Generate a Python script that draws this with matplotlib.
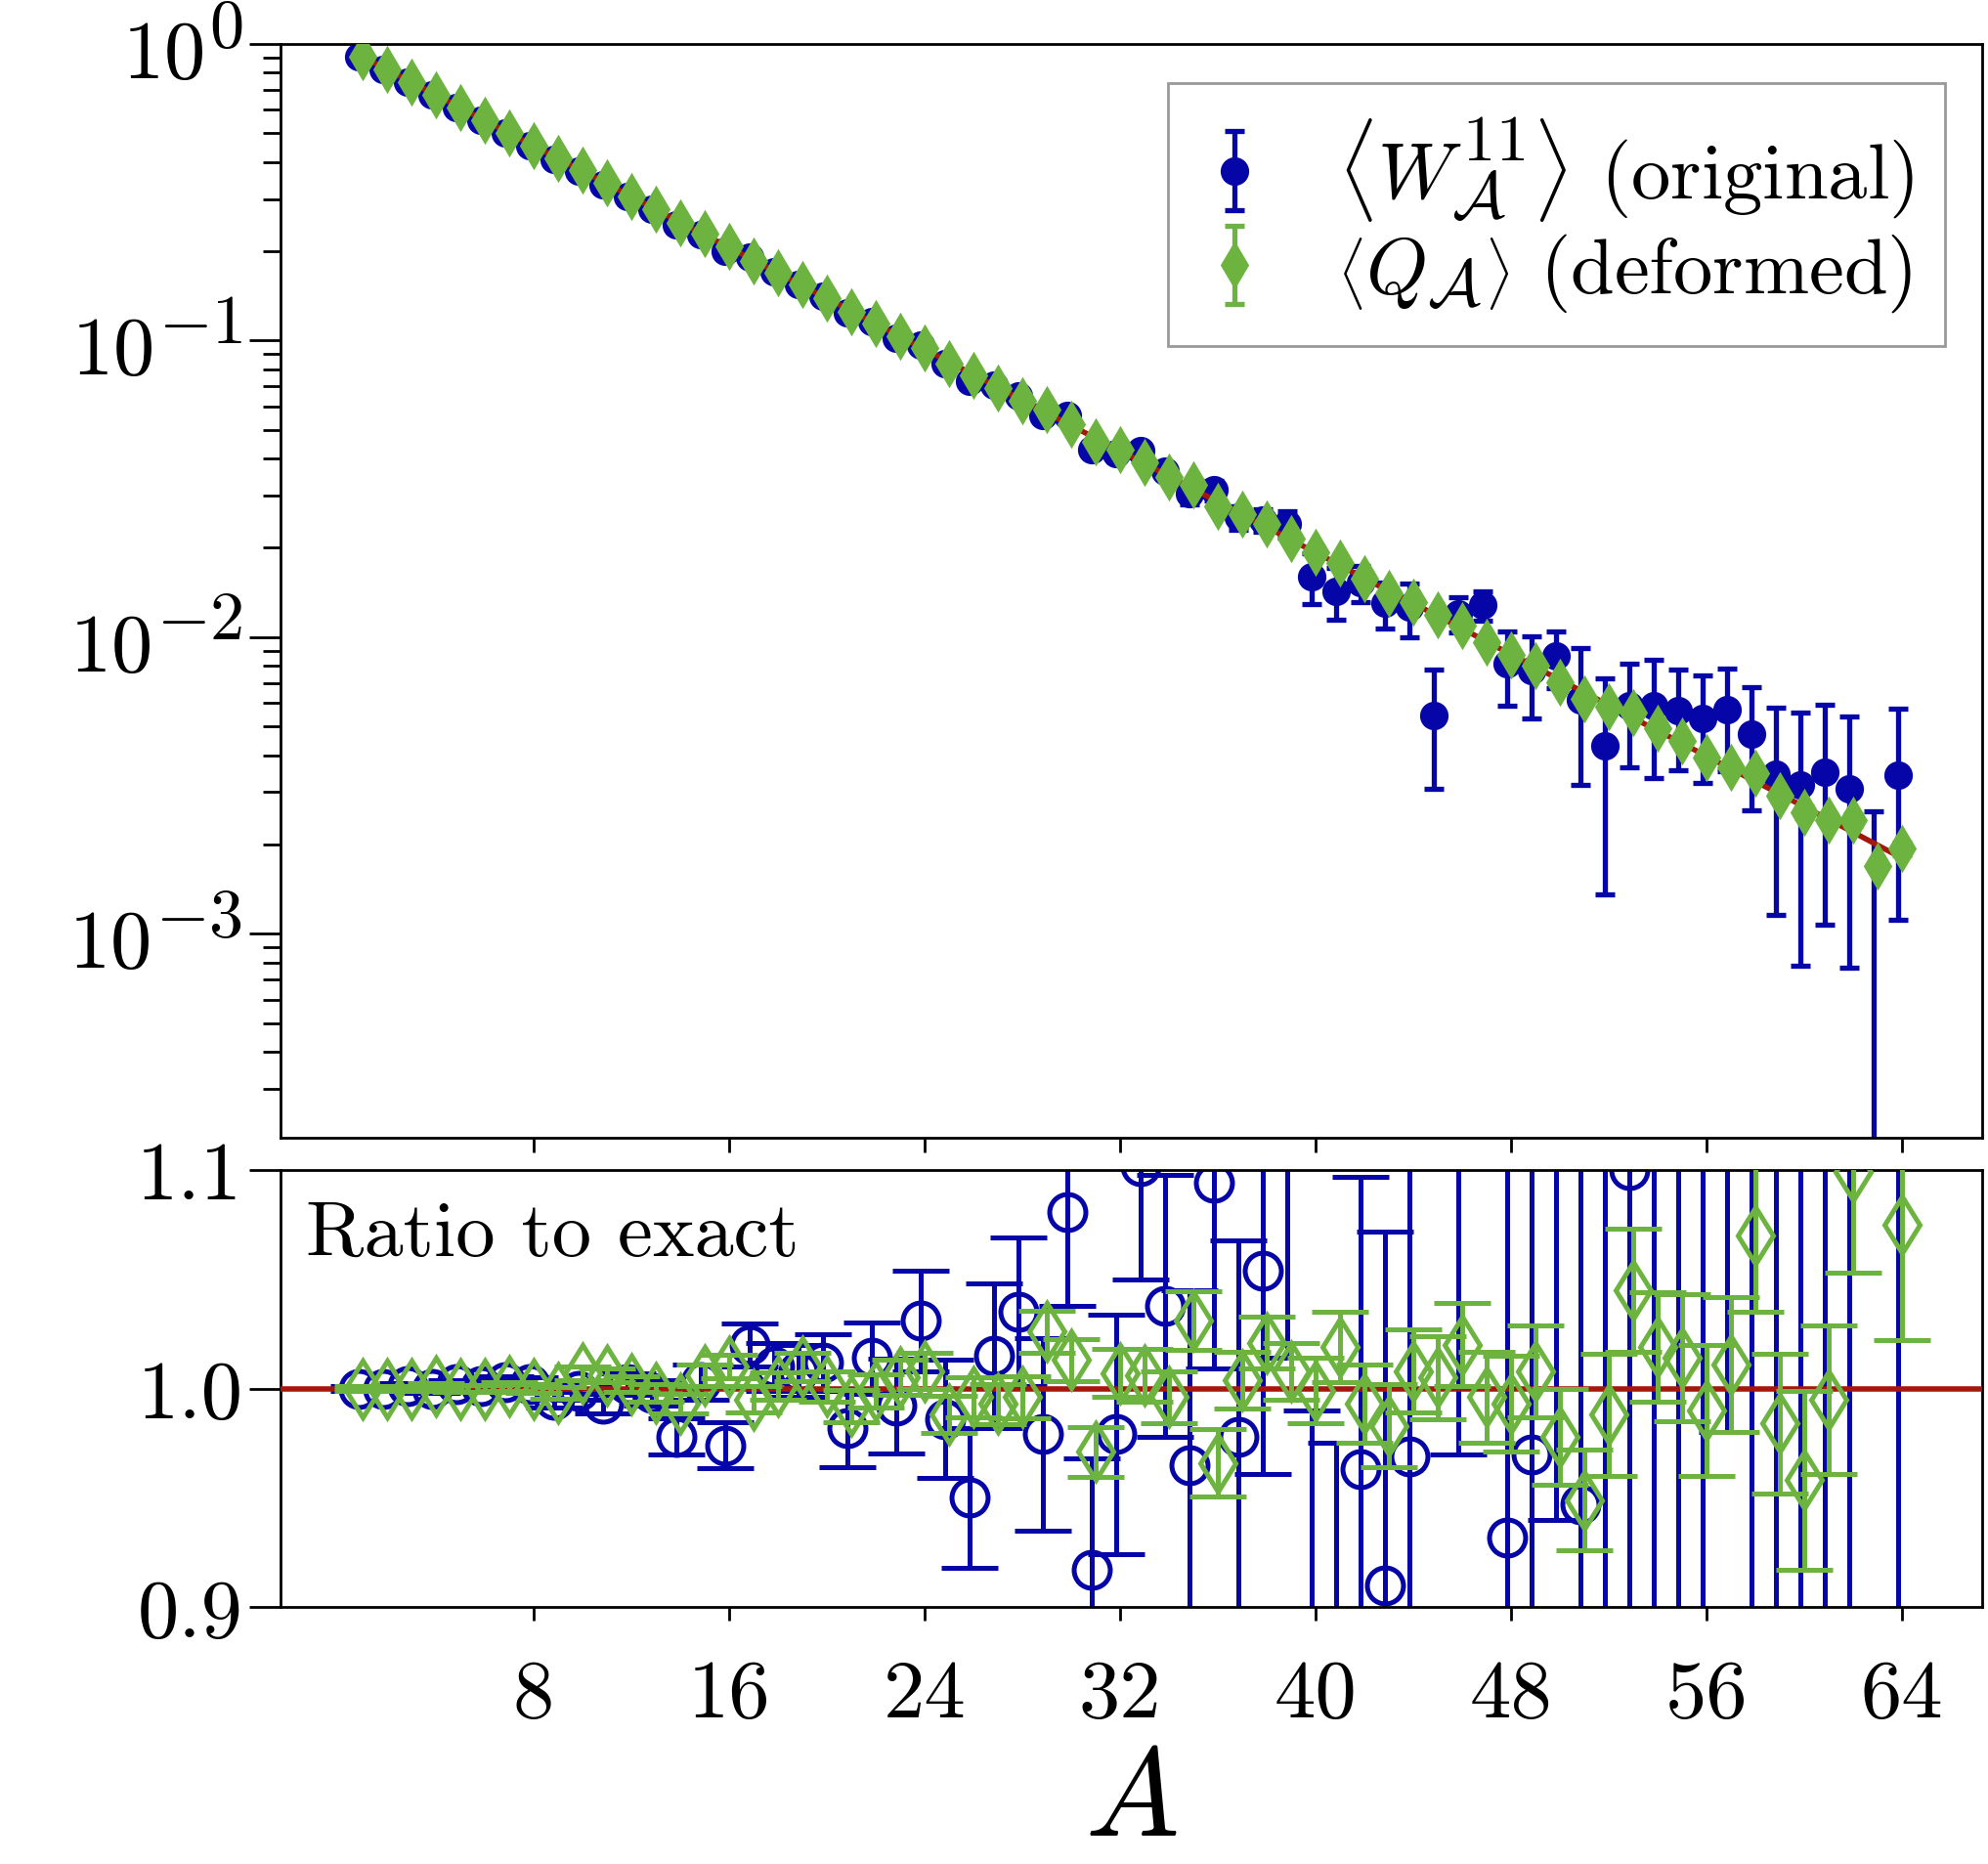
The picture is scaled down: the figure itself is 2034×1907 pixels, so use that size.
import numpy as np
import matplotlib
matplotlib.use('Agg')
import matplotlib.pyplot as plt
import matplotlib._mathtext as mathtext_internals
from matplotlib.ticker import FuncFormatter, FixedLocator

plt.rcParams['font.family'] = 'cmr10'
plt.rcParams['mathtext.fontset'] = 'cm'
plt.rcParams['axes.formatter.use_mathtext'] = False
plt.rcParams['axes.unicode_minus'] = False
plt.rcParams['font.size'] = 29
# large-size LaTeX uses scripts at ~0.83 of the base size
mathtext_internals.SHRINK_FACTOR = 0.83

# loop area
area = np.arange(1, 65)

# exact Wilson loop expectation value
exact = np.array([
    0.906, 0.821, 0.744, 0.674, 0.610, 0.553, 0.501, 0.454,
    0.411, 0.373, 0.338, 0.306, 0.277, 0.251, 0.2275, 0.206,
    0.187, 0.169, 0.153, 0.139, 0.126, 0.114, 0.103, 0.0936,
    0.0848, 0.0768, 0.0696, 0.0630, 0.0571, 0.0517, 0.0469, 0.0425,
    0.0385, 0.0349, 0.0316, 0.0286, 0.0259, 0.0235, 0.0213, 0.0193,
    0.0175, 0.0158, 0.0143, 0.0130, 0.0118, 0.0107, 0.00966, 0.00875,
    0.00793, 0.00718, 0.00651, 0.00590, 0.00534, 0.00484, 0.00439, 0.00397,
    0.00360, 0.00326, 0.00296, 0.00268, 0.00243, 0.00220, 0.00199, 0.00180])

# original observable, as ratio to exact
ratio_orig = np.array([
    1.000, 1.000, 1.001, 1.000, 1.002, 1.001, 1.003, 1.002,
    0.995, 0.999, 0.993, 1.002, 0.998, 0.978, 1.003, 0.974,
    1.020, 1.010, 1.008, 1.012, 0.982, 1.014, 0.992, 1.031,
    0.986, 0.950, 1.015, 1.035, 0.979, 1.081, 0.917, 0.979,
    1.102, 1.038, 0.965, 1.094, 0.978, 1.054, 1.130, 0.830,
    0.815, 0.963, 0.910, 0.969, 0.460, 1.120, 1.330, 0.932,
    0.970, 1.200, 0.947, 0.730, 1.100, 1.210, 1.290, 1.340,
    1.580, 1.440, 1.170, 1.180, 1.440, 1.400, -0.150, 1.900])
err_orig = np.array([
    0.001, 0.0012, 0.0015, 0.0018, 0.002, 0.0023, 0.0027, 0.003,
    0.0035, 0.004, 0.0045, 0.005, 0.006, 0.0082, 0.008, 0.0105,
    0.0097, 0.011, 0.012, 0.013, 0.018, 0.0164, 0.0216, 0.023,
    0.027, 0.032, 0.033, 0.034, 0.044, 0.043, 0.051, 0.055,
    0.052, 0.060, 0.080, 0.085, 0.090, 0.093, 0.116, 0.160,
    0.160, 0.134, 0.162, 0.200, 0.200, 0.150, 0.150, 0.260,
    0.300, 0.260, 0.460, 0.500, 0.420, 0.520, 0.480, 0.530,
    0.600, 0.640, 0.780, 0.890, 1.000, 1.050, 1.450, 1.280])

# deformed observable, as ratio to exact
ratio_def = np.array([
    1.000, 1.000, 1.000, 1.001, 1.000, 1.000, 1.001, 1.000,
    0.998, 1.007, 1.006, 1.002, 0.998, 0.993, 1.006, 1.010,
    0.995, 1.001, 1.010, 1.001, 0.992, 0.999, 1.005, 1.008,
    0.988, 0.996, 0.993, 0.996, 1.026, 1.013, 0.971, 1.007,
    1.006, 0.996, 1.031, 0.966, 1.004, 1.021, 1.008, 0.999,
    1.019, 0.993, 0.983, 1.008, 1.005, 1.020, 0.996, 0.993,
    1.008, 0.978, 0.949, 0.988, 1.045, 1.019, 1.014, 0.990,
    1.011, 1.070, 0.984, 0.958, 0.995, 1.099, 0.850, 1.075])
err_def = np.array([
    0.001, 0.001, 0.0012, 0.0013, 0.0015, 0.0017, 0.002, 0.0022,
    0.0025, 0.003, 0.0032, 0.0035, 0.004, 0.0045, 0.005, 0.0055,
    0.006, 0.0062, 0.0065, 0.007, 0.0072, 0.0075, 0.008, 0.0082,
    0.0085, 0.009, 0.0092, 0.0095, 0.0097, 0.0097, 0.0115, 0.011,
    0.012, 0.012, 0.0134, 0.0153, 0.013, 0.012, 0.013, 0.015,
    0.016, 0.018, 0.019, 0.019, 0.019, 0.019, 0.021, 0.022,
    0.021, 0.022, 0.023, 0.028, 0.028, 0.025, 0.029, 0.030,
    0.031, 0.035, 0.032, 0.041, 0.034, 0.046, 0.030, 0.053])

xticks = [8, 16, 24, 32, 40, 48, 56, 64]

blue = '#0505a8'
green = '#6db33f'
red = '#a5170b'

x_orig = area - 0.15
x_def = area + 0.0


def log_label(v, pos):
    return r'$10^{%d}$' % int(round(np.log10(v)))


fig = plt.figure(figsize=(10.17, 9.54), dpi=200)
ax_top = fig.add_axes([0.141, 0.3894, 0.8562, 0.5865])
ax_rat = fig.add_axes([0.141, 0.1378, 0.8562, 0.2343], sharex=ax_top)

# upper panel: expectation values on a log scale
ax_top.errorbar(x_orig, exact * ratio_orig, yerr=exact * err_orig, fmt='o',
                color=blue, ms=9.5, elinewidth=1.9, capsize=3.6, capthick=1.9,
                zorder=2,
                label=r'$\left\langle W^{11}_{\mathcal{A}}\right\rangle$ (original)')
ax_top.plot(area, exact, '-', color=red, lw=2.0, zorder=3)
ax_top.errorbar(x_def, exact * ratio_def, yerr=exact * err_def, fmt='d',
                color=green, ms=11, elinewidth=1.9, capsize=3.6, capthick=1.9,
                zorder=4,
                label=r'$\left\langle Q_{\mathcal{A}}\right\rangle$ (deformed)')

ax_top.set_yscale('log')
ax_top.set_ylim(2.05e-4, 1.0)
ax_top.yaxis.set_major_locator(FixedLocator([1e-3, 1e-2, 1e-1, 1e0]))
ax_top.yaxis.set_major_formatter(FuncFormatter(log_label))
ax_top.tick_params(axis='x', which='both', direction='out', length=5.5,
                   width=1.0, labelbottom=False)
ax_top.tick_params(axis='y', which='major', direction='out', length=11.4,
                   width=1.0, pad=2.5, labelsize=30.5)
ax_top.tick_params(axis='y', which='minor', direction='out', length=6.6,
                   width=1.0)

leg = ax_top.legend(loc='upper right', bbox_to_anchor=(0.978, 0.964),
                    borderaxespad=0, fancybox=False, edgecolor='#999999',
                    framealpha=1, fontsize=29, handlelength=0.9,
                    handletextpad=0.85, borderpad=0.4, labelspacing=0.1)
leg.get_frame().set_linewidth(1.0)

# lower panel: ratio to exact result
r_orig = np.where(ratio_orig > 0, ratio_orig, np.nan)
ax_rat.errorbar(x_orig, r_orig, yerr=err_orig, fmt='o', mfc='none', mec=blue,
                mew=1.8, ms=13.3, color=blue, elinewidth=1.8, capsize=10.3,
                capthick=1.8, zorder=2)
ax_rat.axhline(1.0, color=red, lw=2.0, zorder=3)
ax_rat.errorbar(x_def, ratio_def, yerr=err_def, fmt='d', mfc='none', mec=green,
                mew=1.8, ms=15, color=green, elinewidth=1.8, capsize=10.3,
                capthick=1.8, zorder=4)

ax_rat.set_ylim(0.9, 1.1)
ax_rat.set_yticks([0.9, 1.0, 1.1])
ax_rat.set_yticklabels(['0.9', '1.0', '1.1'])
ax_rat.set_xlim(-2.36, 67.3)
ax_rat.set_xticks(xticks)
ax_rat.set_xticklabels([str(t) for t in xticks])
ax_rat.tick_params(axis='x', direction='out', length=5, width=1.0, pad=14,
                   labelsize=30.5)
ax_rat.tick_params(axis='y', direction='out', length=11.4, width=1.0, pad=2.5,
                   labelsize=30.5)
ax_rat.text(0.015, 0.93, 'Ratio to exact', transform=ax_rat.transAxes,
            ha='left', va='top', fontsize=29)
ax_rat.set_xlabel(r'$A$', fontsize=46, labelpad=6)

for ax in (ax_top, ax_rat):
    for s in ax.spines.values():
        s.set_linewidth(1.0)

fig.savefig('out.png', dpi=200)
